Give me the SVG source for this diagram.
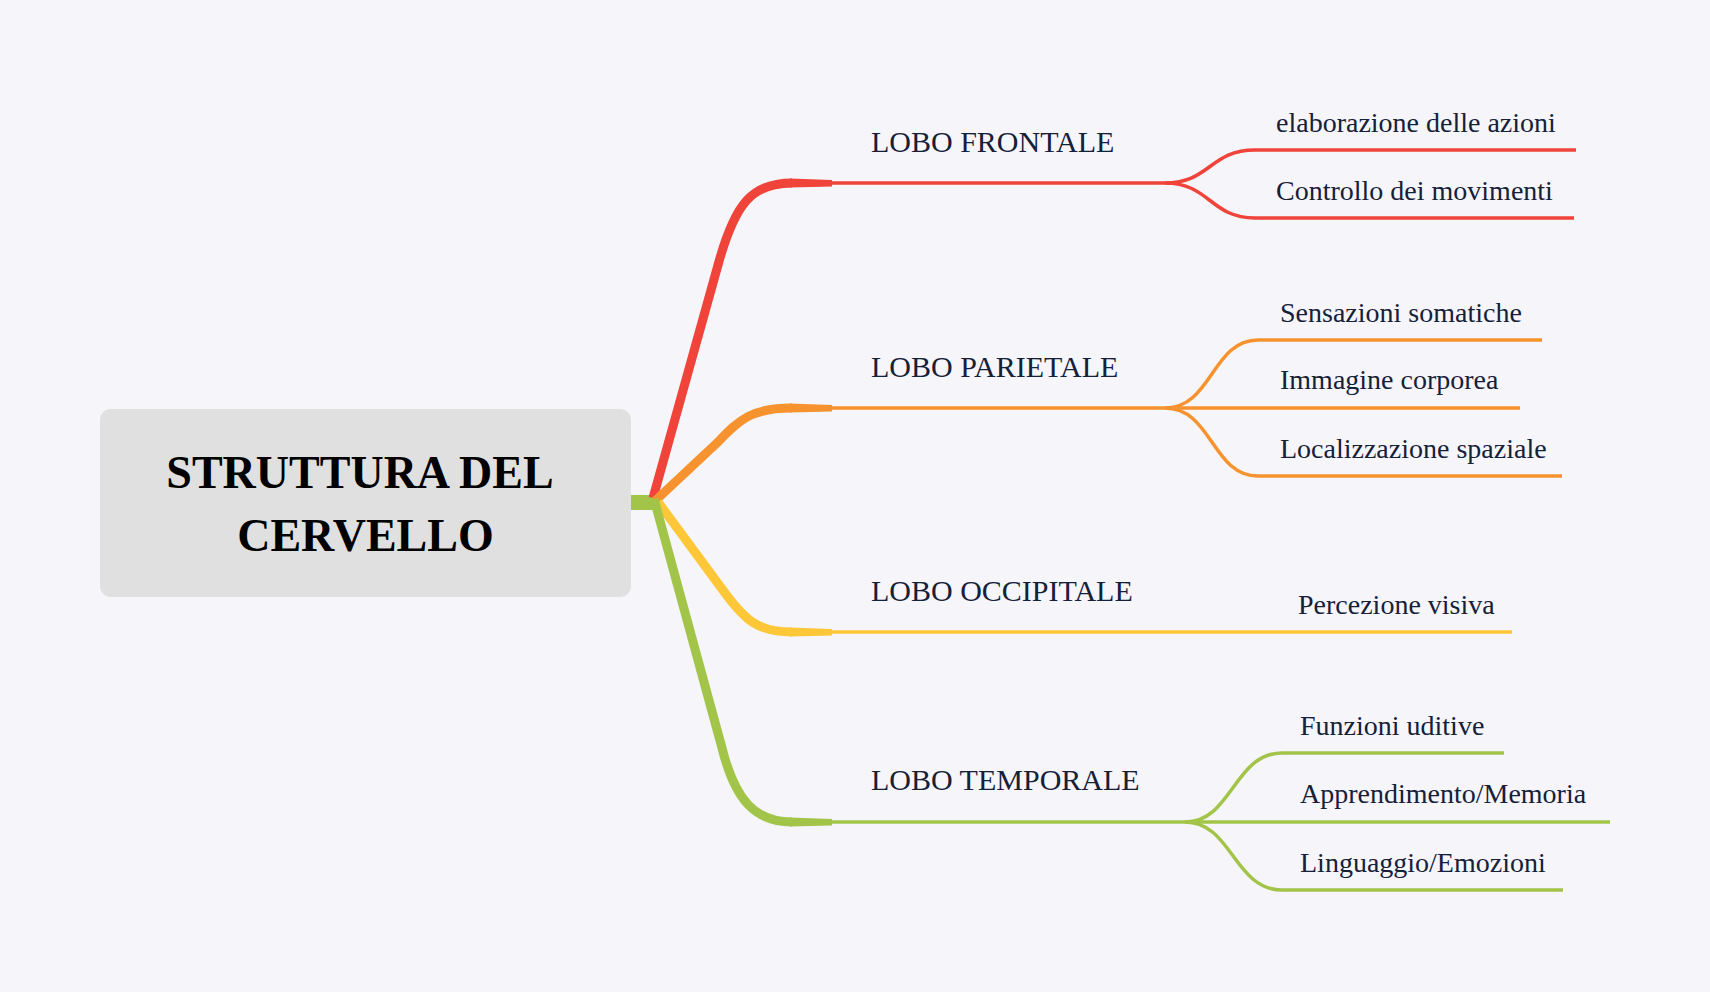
<svg xmlns="http://www.w3.org/2000/svg" width="1710" height="992" viewBox="0 0 1710 992">
<style>
.bg{fill:#f5f5fa}
.root{fill:#e0e0e0}
.title{font-family:"Liberation Serif",serif;font-weight:bold;font-size:46px;fill:#000;text-anchor:middle}
.lbl{font-family:"Liberation Serif",serif;font-size:30px;fill:#152039}
.sub{font-family:"Liberation Serif",serif;font-size:28px;fill:#152039}
.thick{fill:none;stroke-width:9;stroke-linecap:butt;stroke-linejoin:round}
.thin{fill:none;stroke-width:3.5;stroke-linecap:butt}
.red{stroke:#f0433a}.redf{fill:#f0433a}
.org{stroke:#f7932f}.orgf{fill:#f7932f}
.yel{stroke:#fec738}.yelf{fill:#fec738}
.grn{stroke:#a2c449}.grnf{fill:#a2c449}
</style>
<rect class="bg" x="0" y="0" width="1710" height="992"/>
<g id="connectors">
  <rect class="grnf" x="631" y="495" width="26" height="15"/>
  <!-- red -->
  <path class="thick red" d="M653,498 L718,265 C735,203 752,183 792,183"/>
  <polygon class="redf" points="790,178.5 832,180 832,186.5 790,187.5"/>
  <path class="thin red" d="M831,183 L1165,183 C1210,183 1210,150 1255,150 L1576,150"/>
  <path class="thin red" d="M1165,183 C1210,183 1210,218 1255,218 L1574,218"/>
  <!-- orange -->
  <path class="thick org" d="M655,501 L718,442 C740,419 752,408 792,408"/>
  <polygon class="orgf" points="790,403.5 832,405 832,411.5 790,412.5"/>
  <path class="thin org" d="M831,408 L1520,408"/>
  <path class="thin org" d="M1165,408 C1212,408 1212,340 1258,340 L1542,340"/>
  <path class="thin org" d="M1165,408 C1212,408 1212,476 1258,476 L1562,476"/>
  <!-- yellow -->
  <path class="thick yel" d="M658,502 L725,593 C745,620 758,632 792,632"/>
  <polygon class="yelf" points="790,627.5 832,629 832,635.5 790,636.5"/>
  <path class="thin yel" d="M831,632 L1512,632"/>
  <!-- green -->
  <path class="thick grn" d="M654,499 L722,748 C735,800 755,822 792,822"/>
  <polygon class="grnf" points="790,817.5 832,819 832,825.5 790,826.5"/>
  <path class="thin grn" d="M831,822 L1610,822"/>
  <path class="thin grn" d="M1185,822 C1232,822 1234,753 1282,753 L1504,753"/>
  <path class="thin grn" d="M1185,822 C1232,822 1234,890 1282,890 L1563,890"/>
</g>
<g id="root">
  <rect class="root" x="100" y="409" width="531" height="188" rx="11"/>
  <text class="title" x="360" y="488">STRUTTURA DEL</text>
  <text class="title" x="365.5" y="551">CERVELLO</text>
</g>
<g id="lobo-frontale"><text class="lbl" x="871" y="152">LOBO FRONTALE</text></g>
<g id="lobo-parietale"><text class="lbl" x="871" y="377">LOBO PARIETALE</text></g>
<g id="lobo-occipitale"><text class="lbl" x="871" y="601">LOBO OCCIPITALE</text></g>
<g id="lobo-temporale"><text class="lbl" x="871" y="790">LOBO TEMPORALE</text></g>
<g id="elaborazione"><text class="sub" x="1276" y="132">elaborazione delle azioni</text></g>
<g id="controllo"><text class="sub" x="1276" y="200">Controllo dei movimenti</text></g>
<g id="sensazioni"><text class="sub" x="1280" y="322">Sensazioni somatiche</text></g>
<g id="immagine"><text class="sub" x="1280" y="389">Immagine corporea</text></g>
<g id="localizzazione"><text class="sub" x="1280" y="458">Localizzazione spaziale</text></g>
<g id="percezione"><text class="sub" x="1298" y="614">Percezione visiva</text></g>
<g id="funzioni"><text class="sub" x="1300" y="735">Funzioni uditive</text></g>
<g id="apprendimento"><text class="sub" x="1300" y="803">Apprendimento/Memoria</text></g>
<g id="linguaggio"><text class="sub" x="1300" y="872">Linguaggio/Emozioni</text></g>
</svg>
